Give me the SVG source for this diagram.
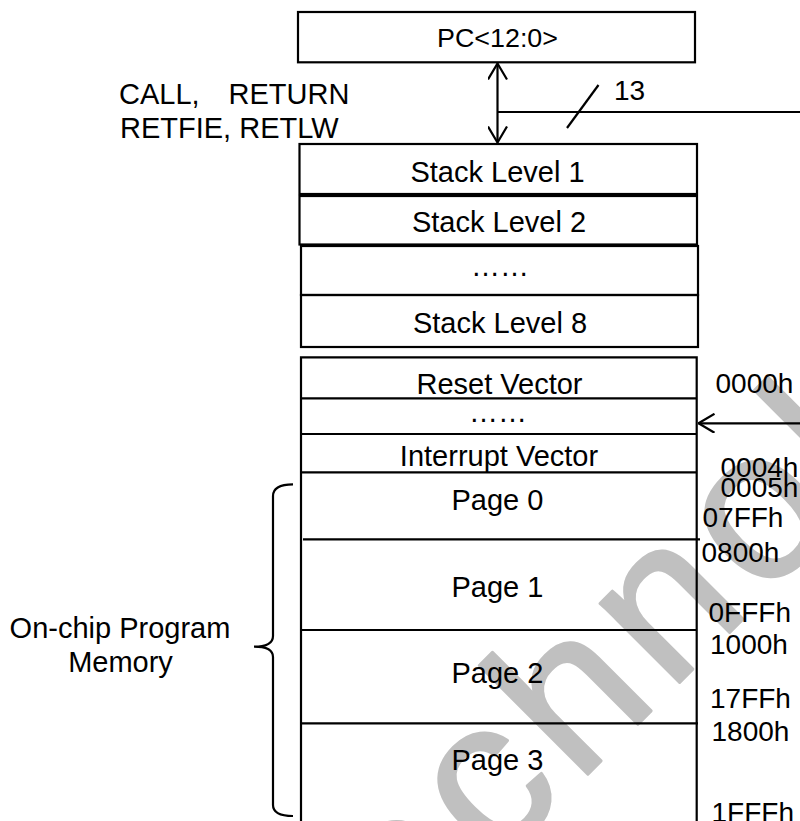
<svg xmlns="http://www.w3.org/2000/svg" width="800" height="821" viewBox="0 0 800 821">
<style>
.box{fill:none;stroke:#000;stroke-width:2.2}
.ln{fill:none;stroke:#000;stroke-width:2.2}
.t{font-family:"Liberation Sans",Arial,sans-serif;fill:#000;font-size:29px}
.m{text-anchor:middle}
.a{font-size:28px}
.wm{font-family:"Liberation Sans",Arial,sans-serif;font-size:212px;letter-spacing:12px;fill:#c0c0c0;stroke:#c0c0c0;stroke-width:3;stroke-linejoin:round}
</style>
<defs>
<marker id="oa" viewBox="0 0 18 20" refX="17" refY="10" markerWidth="18" markerHeight="20" markerUnits="userSpaceOnUse" orient="auto-start-reverse">
<path d="M1,0.5 L17,10 L1,19.5" fill="none" stroke="#000" stroke-width="2.2"/>
</marker>
</defs>
<rect x="0" y="0" width="800" height="821" fill="#fff"/>
<g id="watermark">
<text class="wm" transform="translate(494,868) rotate(-45)" x="-200.8" y="0">technology</text>
</g>
<g id="connectors">
<line class="ln" x1="497.5" y1="63.5" x2="497.5" y2="142.5" marker-start="url(#oa)" marker-end="url(#oa)"/>
<line class="ln" x1="497.5" y1="112" x2="800" y2="112"/>
<line class="ln" x1="567" y1="128" x2="598.5" y2="85"/>
<line class="ln" x1="800" y1="423.3" x2="698.5" y2="423.3" marker-end="url(#oa)"/>
</g>
<g id="pc">
<rect class="box" x="298" y="12" width="397" height="50.3"/>
<text class="t" x="437" y="46.7" textLength="121" lengthAdjust="spacingAndGlyphs" style="font-size:25px">PC&lt;12:0&gt;</text>
</g>
<g id="label-call">
<text class="t" x="119" y="104.3">CALL,</text>
<text class="t" x="228.5" y="104.3">RETURN</text>
<text class="t" x="120" y="138.3">RETFIE, RETLW</text>
</g>
<g id="label-13">
<text class="t a" x="614" y="100">13</text>
</g>
<g id="stack1">
<rect class="box" x="299.5" y="144" width="397.5" height="50"/>
<text class="t m" x="497.5" y="182.3">Stack Level 1</text>
</g>
<g id="stack2">
<rect class="box" x="299.5" y="196" width="397.5" height="48.5"/>
<text class="t m" x="499" y="232.3">Stack Level 2</text>
</g>
<g id="stack-dots">
<rect class="box" x="301" y="246" width="397" height="49"/>
<text class="t m" x="500" y="276">……</text>
</g>
<g id="stack8">
<rect class="box" x="301" y="295" width="397" height="52"/>
<text class="t m" x="500" y="333">Stack Level 8</text>
</g>
<g id="program-memory">
<path class="ln" d="M301,825 V357.3 H696.7 V825"/>
</g>
<g id="reset-vector">
<line class="ln" x1="301" y1="398.3" x2="696.7" y2="398.3"/>
<text class="t m" x="499.5" y="394">Reset Vector</text>
</g>
<g id="vector-dots">
<line class="ln" x1="301" y1="434" x2="696.7" y2="434"/>
<text class="t m" x="498" y="421.7">……</text>
</g>
<g id="interrupt-vector">
<line class="ln" x1="301" y1="472.3" x2="696.7" y2="472.3"/>
<text class="t m" x="499" y="466">Interrupt Vector</text>
</g>
<g id="page0">
<line class="ln" x1="303" y1="539.3" x2="700" y2="539.3"/>
<text class="t" x="451.5" y="510">Page 0</text>
</g>
<g id="page1">
<line class="ln" x1="301" y1="630" x2="696.7" y2="630"/>
<text class="t" x="451.5" y="596.7">Page 1</text>
</g>
<g id="page2">
<line class="ln" x1="301" y1="723.3" x2="698" y2="723.3"/>
<text class="t" x="451.5" y="683.3">Page 2</text>
</g>
<g id="page3">
<text class="t" x="451.5" y="770">Page 3</text>
</g>
<g id="addresses">
<text class="t a" x="715.5" y="393.3">0000h</text>
<text class="t a" x="720.5" y="476.7">0004h</text>
<text class="t a" x="720.5" y="496.7">0005h</text>
<text class="t a" x="702.5" y="526.7">07FFh</text>
<text class="t a" x="701.5" y="561.7">0800h</text>
<text class="t a" x="708.5" y="621.7">0FFFh</text>
<text class="t a" x="710" y="654">1000h</text>
<text class="t a" x="710" y="708.3">17FFh</text>
<text class="t a" x="711.5" y="740.7">1800h</text>
<text class="t a" x="711.5" y="822">1FFFh</text>
</g>
<g id="onchip-memory">
<path class="ln" d="M293,484.3 Q273,484.3 273,496 V636 Q273,646.7 254,646.7 Q273,646.7 273,657 V805 Q273,816 293,816"/>
<text class="t m" x="120" y="638.3">On-chip Program</text>
<text class="t m" x="120.5" y="671.7">Memory</text>
</g>
</svg>
